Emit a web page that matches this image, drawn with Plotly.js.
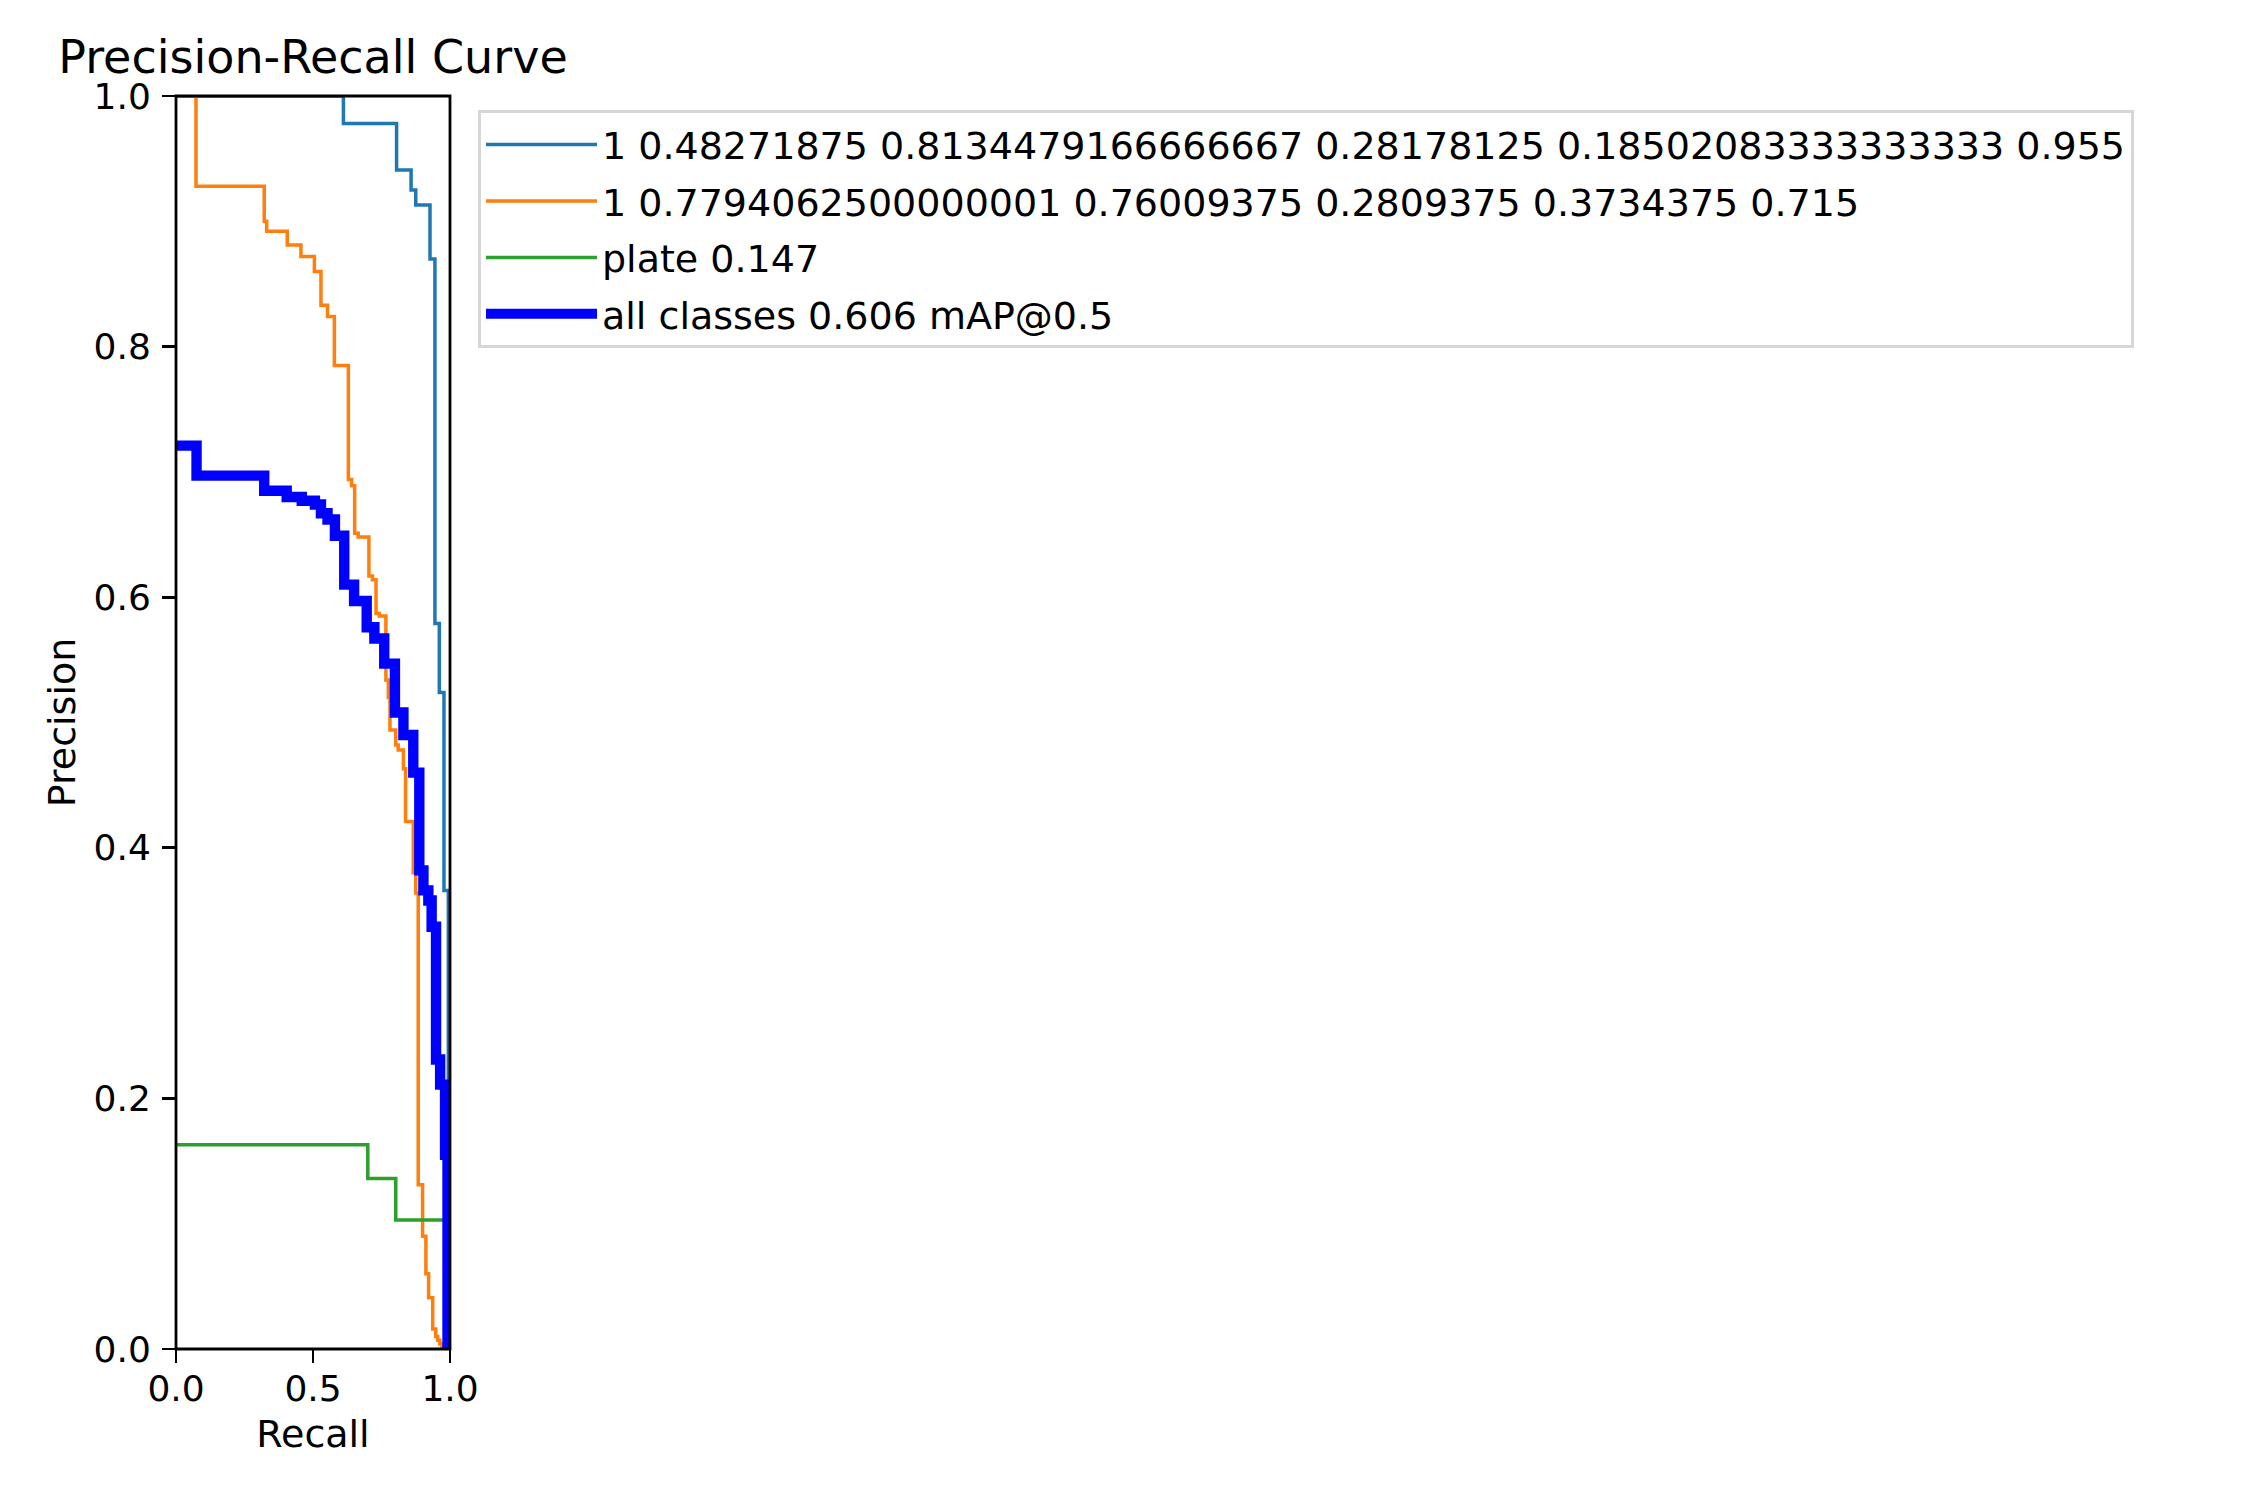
<!DOCTYPE html>
<html>
<head>
<meta charset="utf-8">
<script src="https://cdn.plot.ly/plotly-3.0.1.min.js"></script>
<style>html,body{margin:0;padding:0;background:#fff;}#chart{width:2250px;height:1500px;}</style>
</head>
<body>
<div id="chart"></div>
<script>
// Series 1: "1 0.48271875 ..." (AP 0.955) — step points (recall where a level starts, precision level)
const recallA = [0, 0.611, 0.805, 0.858, 0.875, 0.927, 0.945, 0.961, 0.978, 0.994];
const precisionA = [1.0, 0.978, 0.941, 0.925, 0.913, 0.870, 0.579, 0.524, 0.366, 0.0];

// Series 2: "1 0.77940625 ..." (AP 0.715)
const recallB = [0, 0.073, 0.322, 0.331, 0.406, 0.456, 0.505, 0.529, 0.553, 0.578, 0.629, 0.641, 0.652, 0.665,
  0.704, 0.717, 0.730, 0.742, 0.766, 0.775, 0.781, 0.802, 0.811, 0.830, 0.838, 0.866, 0.875, 0.884, 0.900,
  0.912, 0.922, 0.937, 0.948, 0.955, 0.963, 0.971, 0.979];
const precisionB = [1.0, 0.928, 0.900, 0.892, 0.881, 0.872, 0.860, 0.833, 0.824, 0.785, 0.694, 0.689, 0.651, 0.648,
  0.617, 0.614, 0.587, 0.585, 0.534, 0.520, 0.494, 0.482, 0.478, 0.463, 0.421, 0.380, 0.364, 0.131, 0.090,
  0.060, 0.041, 0.016, 0.010, 0.007, 0.004, 0.002, 0.0];

// Series 3: plate (AP 0.147)
const recallC = [0, 0.700, 0.802, 0.979];
const precisionC = [0.163, 0.136, 0.103, 0.103];

// All classes (mAP@0.5 0.606)
const recallAll = [0, 0.075, 0.322, 0.404, 0.459, 0.507, 0.529, 0.553, 0.580, 0.614, 0.650, 0.696, 0.724, 0.760,
  0.799, 0.830, 0.866, 0.888, 0.903, 0.921, 0.933, 0.949, 0.964, 0.982, 0.991];
const precisionAll = [0.721, 0.697, 0.685, 0.680, 0.677, 0.674, 0.667, 0.662, 0.649, 0.610, 0.597, 0.576, 0.567, 0.547,
  0.508, 0.490, 0.460, 0.382, 0.366, 0.358, 0.337, 0.231, 0.211, 0.155, 0.0];

const seriesNames = [
  "1 0.48271875 0.8134479166666667 0.28178125 0.18502083333333333 0.955",
  "1 0.7794062500000001 0.76009375 0.2809375 0.3734375 0.715",
  "plate 0.147",
  "all classes 0.606 mAP@0.5"
];
const xTickVals = [0, 0.5, 1.0];
const xTickText = ["0.0", "0.5", "1.0"];
const yTickVals = [0, 0.2, 0.4, 0.6, 0.8, 1.0];
const yTickText = ["0.0", "0.2", "0.4", "0.6", "0.8", "1.0"];

const FONT = "DejaVu Sans, Liberation Sans, sans-serif";

function tr(x, y, name, color, width, grp) {
  return {x: x, y: y, name: name, type: "scatter", mode: "lines",
    line: {color: color, width: width, shape: "hv"}, legendgroup: grp, hoverinfo: "skip"};
}

const data = [
  tr(recallA, precisionA, seriesNames[0], "#1f77b4", 3.5, "a"),
  tr(recallB, precisionB, seriesNames[1], "#ff7f0e", 3.5, "b"),
  tr(recallC, precisionC, seriesNames[2], "#2ca02c", 3.5, "c"),
  tr(recallAll, precisionAll, seriesNames[3], "#0000ff", 10.4, "d")
];

const axisCommon = {
  showgrid: false, zeroline: false, showline: false,
  ticks: "outside", ticklen: 13, tickwidth: 2.8,
  tickcolor: "#000", tickfont: {family: FONT, size: 36, color: "#000"}
};

const layout = {
  width: 2250, height: 1500,
  paper_bgcolor: "#fff", plot_bgcolor: "#fff",
  margin: {l: 176, r: 1800, t: 96, b: 151, pad: 0},
  font: {family: FONT, color: "#000"},
  title: {text: "Precision-Recall Curve", font: {family: FONT, size: 46, color: "#000"},
    xref: "paper", x: 0.5, xanchor: "center", yref: "paper", y: 1, yanchor: "bottom", pad: {b: 23}},
  xaxis: Object.assign({}, axisCommon, {range: [0, 1], tickvals: xTickVals, ticktext: xTickText,
    ticklabelstandoff: -5,
    title: {text: "Recall", font: {family: FONT, size: 38, color: "#000"}, standoff: 12}}),
  yaxis: Object.assign({}, axisCommon, {range: [0, 1], tickvals: yTickVals, ticktext: yTickText,
    ticklabelstandoff: 4,
    title: {text: "Precision", font: {family: FONT, size: 38, color: "#000"}, standoff: 6}}),
  shapes: [
    {type: "rect", xref: "paper", yref: "paper", x0: 0, x1: 1, y0: 0, y1: 1,
     line: {color: "#000", width: 2.8}, fillcolor: "rgba(0,0,0,0)", layer: "above"}
  ],
  showlegend: true,
  legend: {x: 1.1022, y: 0.9885, xanchor: "left", yanchor: "top",
    font: {family: FONT, size: 38, color: "#000"},
    bgcolor: "rgba(255,255,255,0.8)", bordercolor: "#d6d6d6", borderwidth: 3,
    itemwidth: 111, tracegroupgap: 4, traceorder: "grouped"}
};

Plotly.newPlot("chart", data, layout, {staticPlot: true, displayModeBar: false});
</script>
</body>
</html>
